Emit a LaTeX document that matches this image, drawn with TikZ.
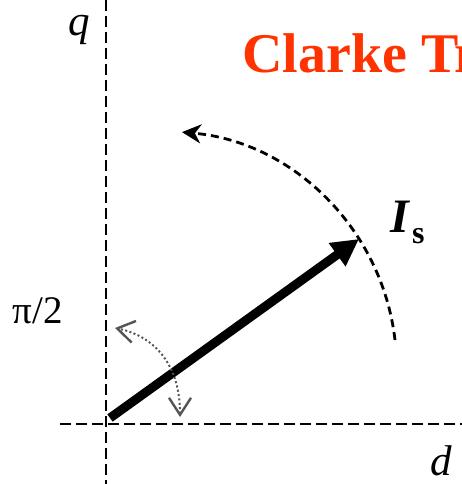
\documentclass[tikz,border=0pt]{standalone}
\usepackage{fontspec}
\setmainfont{Liberation Serif}
\usetikzlibrary{arrows.meta}
\definecolor{clarkered}{HTML}{FF3300}
\definecolor{dotgrey}{HTML}{555555}
\begin{document}
\begin{tikzpicture}[x=1pt,y=-1pt,
  axis/.style={line width=2pt, dash pattern=on 11pt off 5pt},
  rotarc/.style={line width=2.8pt, dash pattern=on 8pt off 5pt, -{Stealth[length=19pt,width=19pt,inset=6pt]}},
  dotarc/.style={dotgrey, line width=2pt, dash pattern=on 2pt off 2.4pt,
     {Straight Barb[length=17pt,width=22pt,line width=2.4pt]}-{Straight Barb[length=17pt,width=22pt,line width=2.4pt]}},
  vec/.style={line width=9pt, -{Triangle[length=27pt,width=27pt]}},
  lbl/.style={inner sep=0pt, anchor=base}]
\useasboundingbox (0,0) rectangle (462,484);
% axes
\coordinate (qtop) at (106,0);
\coordinate (qbot) at (106,484);
\coordinate (dleft) at (60,424);
\coordinate (dright) at (462,424);
\draw[axis] (qtop) -- (qbot);
\draw[axis] (dleft) -- (dright);
% current vector
\coordinate (O) at (110,418);
\coordinate (Is) at (359,239);
\draw[vec] (O) -- (Is);
% rotation arc
\coordinate (arcstart) at (395,340);
\draw[rotarc] (arcstart) arc[start angle=6.6, end angle=84.8, radius=236pt];
% pi/2 arc
\coordinate (dotA) at (180,417);
\coordinate (dotB) at (115,328);
\draw[dotarc] (dotA) .. controls (180,360) and (150,335) .. (dotB);
% labels
\node[lbl, font=\fontsize{43}{43}\selectfont\itshape] (qlab) at (79,36) {q};
\node[lbl, font=\fontsize{43}{43}\selectfont\itshape] (dlab) at (441,475) {d};
\node[lbl, font=\fontsize{39}{39}\selectfont] (pilab) at (38,323) {π/2};
\node[lbl, anchor=base west, text=clarkered, font=\fontsize{56}{56}\selectfont\bfseries] (title) at (242,73) {Clarke Tr};
\node[lbl, anchor=base west, font=\fontsize{48}{48}\selectfont\bfseries\itshape] (Ilab) at (390,232) {I};
\node[lbl, anchor=base west, font=\fontsize{32}{32}\selectfont\bfseries] (slab) at (412,243) {s};
\end{tikzpicture}
\end{document}
